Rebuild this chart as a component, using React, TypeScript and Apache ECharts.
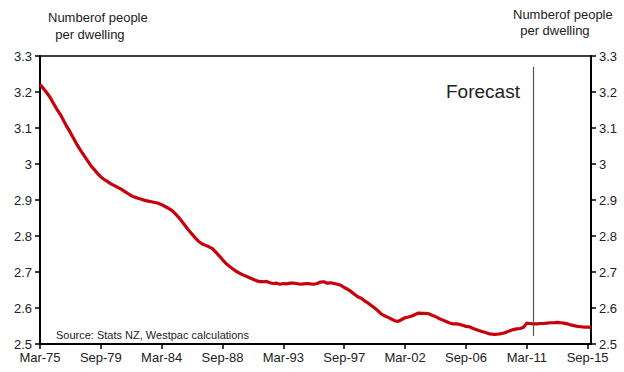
import React, { useEffect, useRef } from "react";
import * as echarts from "echarts";

const startYear = 1975;
const quarterMonths = ["Mar", "Jun", "Sep", "Dec"];
const quarterCount = 164;
const categories: string[] = [];
for (let i = 0; i < quarterCount; i++) {
  const y = startYear + Math.floor(i / 4);
  categories.push(quarterMonths[i % 4] + "-" + String(y % 100).padStart(2, "0"));
}

const peoplePerDwelling = [
  3.221, 3.21, 3.198, 3.185, 3.168, 3.152, 3.138, 3.12, 3.103, 3.087,
  3.07, 3.053, 3.038, 3.024, 3.01, 2.996, 2.985, 2.974, 2.964, 2.957,
  2.951, 2.945, 2.94, 2.935, 2.93, 2.924, 2.918, 2.912, 2.908, 2.905,
  2.902, 2.899, 2.897, 2.895, 2.893, 2.891, 2.887, 2.882, 2.877, 2.871,
  2.862, 2.852, 2.84, 2.828, 2.816, 2.805, 2.794, 2.784, 2.778, 2.774,
  2.77, 2.765, 2.755, 2.745, 2.734, 2.724, 2.716, 2.709, 2.702, 2.697,
  2.692, 2.688, 2.684, 2.68, 2.676, 2.673, 2.673, 2.674, 2.67, 2.668,
  2.669, 2.666, 2.668, 2.667, 2.669, 2.669, 2.668, 2.666, 2.667, 2.668,
  2.667, 2.666, 2.668, 2.672, 2.673, 2.669, 2.67, 2.668, 2.666, 2.663,
  2.657, 2.652, 2.646, 2.638, 2.631, 2.627, 2.62, 2.614, 2.607, 2.6,
  2.592, 2.583, 2.578, 2.574, 2.569, 2.564, 2.563, 2.568, 2.573, 2.575,
  2.578, 2.582, 2.586, 2.585, 2.585, 2.584, 2.58, 2.576, 2.571, 2.567,
  2.563, 2.559, 2.556, 2.556, 2.555, 2.552, 2.549, 2.548, 2.544, 2.54,
  2.537, 2.534, 2.531, 2.528, 2.527, 2.527, 2.528, 2.53, 2.533, 2.537,
  2.54, 2.542, 2.543, 2.546, 2.558, 2.557, 2.556, 2.556, 2.557, 2.557,
  2.558, 2.559, 2.559, 2.56, 2.559, 2.558, 2.556, 2.553, 2.551, 2.549,
  2.548, 2.547, 2.547, 2.546,
];

const forecastStart = "Sep-11";
const forecastLineRange = [3.27, 2.522];
const yMin = 2.5;
const yMax = 3.3;
const yInterval = 0.1;

const FONT = "Liberation Sans, Arial, sans-serif";

export default function App() {
  const ref = useRef<HTMLDivElement>(null);
  useEffect(() => {
    if (!ref.current) return;
    const chart = echarts.init(ref.current, undefined, { renderer: "svg" });
    const yAxisBase = (pos: "left" | "right") => ({
      type: "value",
      position: pos,
      min: yMin,
      max: yMax,
      interval: yInterval,
      splitLine: { show: false },
      axisLine: { show: true, lineStyle: { color: "#000", width: 2 } },
      axisTick: { show: true, length: 5, lineStyle: { color: "#000", width: 1.5 } },
      axisLabel: {
        color: "#222",
        fontSize: 13,
        fontFamily: FONT,
        margin: 8,
        formatter: (v: number) => String(Math.round(v * 10) / 10),
      },
    });
    chart.setOption({
      animation: false,
      textStyle: { fontFamily: FONT },
      grid: {
        left: 40,
        right: 33,
        top: 56,
        bottom: 28,
        show: true,
        borderColor: "#000",
        borderWidth: 1.5,
        containLabel: false,
      },
      xAxis: {
        type: "category",
        data: categories,
        boundaryGap: false,
        axisLine: { show: true, lineStyle: { color: "#000", width: 2 } },
        axisTick: { show: true, interval: 17, length: 5, lineStyle: { color: "#000", width: 1.5 } },
        axisLabel: {
          interval: 17,
          color: "#222",
          fontSize: 13,
          fontFamily: FONT,
          margin: 7,
        },
        splitLine: { show: false },
      },
      yAxis: [yAxisBase("left"), yAxisBase("right")],
      series: [
        {
          type: "line",
          data: peoplePerDwelling,
          showSymbol: false,
          symbol: "none",
          lineStyle: { color: "#c8000a", width: 3.2 },
          markLine: {
            silent: true,
            symbol: "none",
            label: { show: false },
            lineStyle: { color: "#555", width: 1.2, type: "solid" },
            data: [
              [
                { coord: [forecastStart, forecastLineRange[0]] },
                { coord: [forecastStart, forecastLineRange[1]] },
              ],
            ],
          },
        },
      ],
      graphic: [
        {
          type: "text",
          left: 48,
          top: 9,
          style: {
            text: "Numberof people\n  per dwelling",
            fill: "#222",
            fontSize: 13,
            fontFamily: FONT,
            lineHeight: 17,
          },
        },
        {
          type: "text",
          left: 513,
          top: 6,
          style: {
            text: "Numberof people\n  per dwelling",
            fill: "#222",
            fontSize: 13,
            fontFamily: FONT,
            lineHeight: 16,
          },
        },
        {
          type: "text",
          left: 446,
          top: 82,
          style: {
            text: "Forecast",
            fill: "#222",
            fontSize: 19,
            fontFamily: FONT,
          },
        },
        {
          type: "text",
          left: 56,
          top: 329,
          style: {
            text: "Source: Stats NZ, Westpac calculations",
            fill: "#222",
            fontSize: 11,
            fontFamily: FONT,
          },
        },
      ],
    });
    return () => chart.dispose();
  }, []);
  return (
    <div
      ref={ref}
      style={{ position: "absolute", left: 0, top: 0, width: 624, height: 372 }}
    />
  );
}
